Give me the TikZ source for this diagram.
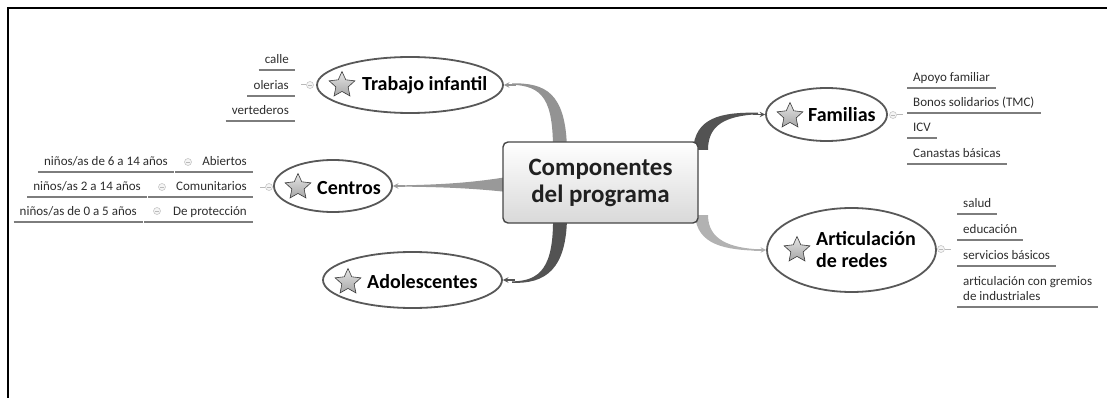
\documentclass[tikz,border=0pt]{standalone}
\usepackage{fontspec}
\setmainfont{Carlito}
\usepackage{tikz}
\usetikzlibrary{arrows}
\usetikzlibrary{shapes.geometric}
\usetikzlibrary{backgrounds}
\definecolor{edge}{RGB}{88,88,88}
\definecolor{rule}{RGB}{125,125,125}
\definecolor{leaftext}{RGB}{45,45,45}
\tikzset{centre/.style = {rectangle, rounded corners = 5pt, draw = gray!55!black, line width = 1.4pt, top color = white, bottom color = gray!30, minimum width = 195pt, minimum height = 81pt, inner sep = 0, align = center, text = gray!25!black, font = \fontsize{25}{27}\selectfont\bfseries}}
\tikzset{topic/.style = {ellipse, draw = edge, line width = 1.8pt, fill = white, inner sep = 0}}
\tikzset{topictext/.style = {font = \fontsize{20}{22}\selectfont\bfseries, inner sep = 0, anchor = base west}}
\tikzset{starmark/.style = {star, star points = 5, star point ratio = 2.1, minimum size = 27pt, inner sep = 0, draw = gray!45!black, line width = 0.6pt, top color = gray!20, bottom color = gray!70}}
\tikzset{leaf/.style = {font = \fontsize{13}{15}\selectfont, text = leaftext, text height = 9pt, text depth = 3pt, inner xsep = 6pt, inner ysep = 3pt}}
\tikzset{leafline/.style = {draw = rule, line width = 1.8pt}}
\tikzset{fold/.style = {circle, draw = gray!45, fill = gray!8, line width = 0.6pt, minimum size = 7pt, inner sep = 0, path picture = {\draw [gray!55, line width = 0.6pt] ([xshift = -2pt]path picture bounding box.center) -- ([xshift = 2pt]path picture bounding box.center);}}}
\tikzset{foldline/.style = {gray!55, line width = 1pt}}
\tikzset{arrowend/.style = {-stealth, line width = 1.4pt}}

\begin{document}
\begin{tikzpicture}[x = 1pt, y = -1pt]

    \useasboundingbox (0, 0) rectangle (1107, 398);
    \draw [line width = 2.5pt] (8, 398) -- (8, 8) -- (1107, 8);

    \node [centre] (prog) at (600.5, 182.5) {Componentes\\del programa};

    \node [topic, minimum width = 186pt, minimum height = 56pt] (trabajo) at (410, 85) {};
    \node [starmark] (trabajo-s) at (342, 85) {};
    \node [topictext] (trabajo-t) at (362, 91) {Trabajo infantil};

    \node [topic, minimum width = 118pt, minimum height = 52pt] (centros) at (333, 186) {};
    \node [starmark] (centros-s) at (298, 187) {};
    \node [topictext] (centros-t) at (317, 194) {Centros};

    \node [topic, minimum width = 179pt, minimum height = 56pt] (adol) at (412.5, 280) {};
    \node [starmark] (adol-s) at (348, 282) {};
    \node [topictext] (adol-t) at (367, 288) {Adolescentes};

    \node [topic, minimum width = 121pt, minimum height = 53pt] (familias) at (826.5, 114.5) {};
    \node [starmark] (familias-s) at (790, 116) {};
    \node [topictext] (familias-t) at (808, 122) {Familias};

    \node [topic, minimum width = 169pt, minimum height = 84pt] (redes) at (851.5, 250) {};
    \node [starmark] (redes-s) at (797, 250) {};
    \node [topictext, align = left] (redes-t) at (816, 267) {Articulación\\de redes};

    \node [fold] (trabajo-f) at (310, 85) {};
    \node [fold] (centros-f) at (269, 187) {};
    \node [fold] (familias-f) at (893, 115) {};
    \node [fold] (redes-f) at (941, 249) {};
    \draw [foldline] (trabajo-f.west) -- ++(-5, 0);
    \draw [foldline] (centros-f.west) -- ++(-5, 0);
    \draw [foldline] (familias-f.east) -- ++(6, 0);
    \draw [foldline] (redes-f.east) -- ++(6, 0);

    \node [leaf, anchor = south east] (calle) at (295, 70) {calle};
    \node [leaf, anchor = south east] (olerias) at (295, 96) {olerias};
    \node [leaf, anchor = south east] (vertederos) at (295, 121) {vertederos};

    \node [leaf, anchor = south east] (abiertos) at (253, 172) {Abiertos};
    \node [leaf, anchor = south east] (comunitarios) at (253, 197) {Comunitarios};
    \node [leaf, anchor = south east] (proteccion) at (253, 222) {De protección};
    \node [fold] (abiertos-f) at (188, 162) {};
    \node [fold] (comunitarios-f) at (162, 187) {};
    \node [fold] (proteccion-f) at (157, 211) {};
    \node [leaf, anchor = south east] (edad1) at (174, 172) {niños/as de 6 a 14 años};
    \node [leaf, anchor = south east] (edad2) at (147, 197) {niños/as 2 a 14 años};
    \node [leaf, anchor = south east] (edad3) at (143, 222) {niños/as de 0 a 5 años};

    \node [leaf, anchor = south west] (apoyo) at (907, 88) {Apoyo familiar};
    \node [leaf, anchor = south west] (bonos) at (907, 113) {Bonos solidarios (TMC)};
    \node [leaf, anchor = south west] (icv) at (907, 138) {ICV};
    \node [leaf, anchor = south west] (canastas) at (907, 164) {Canastas básicas};

    \node [leaf, anchor = south west] (salud) at (957, 214) {salud};
    \node [leaf, anchor = south west] (educacion) at (957, 240) {educación};
    \node [leaf, anchor = south west] (servicios) at (957, 266) {servicios básicos};
    \node [leaf, anchor = south west, align = left, text height = 24pt] (gremios) at (957, 307) {articulación con gremios\\ de industriales};

    \draw [leafline] (calle.south west) -- (calle.south east);
    \draw [leafline] (olerias.south west) -- (olerias.south east);
    \draw [leafline] (vertederos.south west) -- (vertederos.south east);
    \draw [leafline] (edad1.south west) -- (edad1.south east);
    \draw [leafline] ([xshift = 1pt]edad1.south east) -- (abiertos.south east);
    \draw [leafline] (edad2.south west) -- (edad2.south east);
    \draw [leafline] ([xshift = 1pt]edad2.south east) -- (comunitarios.south east);
    \draw [leafline] (edad3.south west) -- (edad3.south east);
    \draw [leafline] ([xshift = 1pt]edad3.south east) -- (proteccion.south east);
    \draw [leafline] (apoyo.south west) -- (apoyo.south east);
    \draw [leafline] (bonos.south west) -- (bonos.south east);
    \draw [leafline] (icv.south west) -- (icv.south east);
    \draw [leafline] (canastas.south west) -- (canastas.south east);
    \draw [leafline] (salud.south west) -- (salud.south east);
    \draw [leafline] (educacion.south west) -- (educacion.south east);
    \draw [leafline] (servicios.south west) -- (servicios.south east);
    \draw [leafline] (gremios.south west) -- (gremios.south east);

    \begin{scope}[on background layer]
      \fill [gray!85] (567, 150) .. controls (566, 92) and (545, 83) .. (512, 83.3) -- (512, 84.7) .. controls (543, 86) and (553, 100) .. (553, 150) -- cycle;
      \fill [gray!80] (507, 177) .. controls (470, 183) and (440, 184.6) .. (400, 185.4) -- (400, 186.6) .. controls (440, 187) and (470, 188) .. (507, 192) -- cycle;
      \fill [gray!65!black] (553, 215) .. controls (554, 268) and (540, 281) .. (512, 281.4) -- (512, 282.8) .. controls (545, 284) and (567, 270) .. (567, 215) -- cycle;
      \fill [gray!65!black] (693, 150) .. controls (695, 118) and (720, 112) .. (758, 112.7) -- (758, 114.2) .. controls (725, 116) and (708, 125) .. (708, 150) -- cycle;
      \fill [gray!60] (695, 215) .. controls (697, 245) and (725, 250) .. (760, 250.8) -- (760, 249.4) .. controls (730, 248) and (708, 240) .. (708, 215) -- cycle;
    \end{scope}

    \draw [arrowend, gray!85] ([xshift = 12pt]trabajo.east) -- (trabajo.east);
    \draw [arrowend, gray!80] ([xshift = 12pt]centros.east) -- (centros.east);
    \draw [arrowend, gray!65!black] ([xshift = 12pt]adol.east) -- (adol.east);
    \draw [arrowend, gray!65!black] ([xshift = -12pt]familias.west) -- (familias.west);
    \draw [arrowend, gray!60] ([xshift = -12pt]redes.west) -- (redes.west);
  \end{tikzpicture}
\end{document}
